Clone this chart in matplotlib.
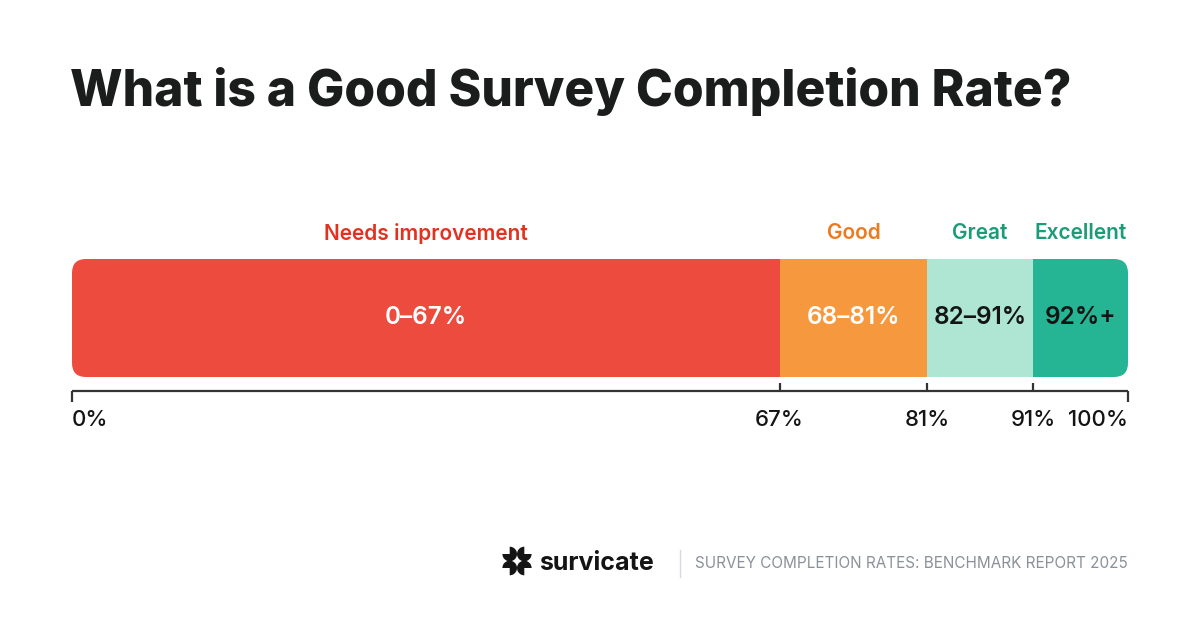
import matplotlib
matplotlib.use("Agg")
import matplotlib.pyplot as plt
from matplotlib.patches import FancyBboxPatch, Wedge
import numpy as np

# ---- data ----
categories = ["Needs improvement", "Good", "Great", "Excellent"]
starts = [0, 67, 81, 91]
ends = [67, 81, 91, 100]
range_labels = ["0–67%", "68–81%", "82–91%", "92%+"]
tick_values = [0, 67, 81, 91, 100]
tick_labels = ["0%", "67%", "81%", "91%", "100%"]

bar_colors = ["#EC4B3D", "#F6993E", "#AEE6D3", "#26B594"]
cat_colors = ["#E2321F", "#EC7A1F", "#1A9C78", "#1A9C78"]
inner_colors = ["white", "white", "#141414", "#141414"]

plt.rcParams['font.family'] = ['Inter', 'DejaVu Sans']

W, H = 1200, 630
fig = plt.figure(figsize=(W / 100, H / 100), dpi=100)
fig.patch.set_facecolor("white")

# overlay axes in pixel coordinates for title/footer
bg = fig.add_axes([0, 0, 1, 1])
bg.set_xlim(0, W)
bg.set_ylim(H, 0)
bg.axis("off")

bg.text(70, 92, "What is a Good Survey Completion Rate?", fontsize=35.8,
        fontweight="heavy", color="#1B1D1C", ha="left", va="center")

# bar axes
bx0, bx1, by0, by1 = 72, 1128, 259, 377
ax = fig.add_axes([bx0 / W, (H - by1) / H, (bx1 - bx0) / W, (by1 - by0) / H])
ax.set_xlim(0, 100)
ax.set_ylim(0, 1)
ax.axis("off")

xs = (bx1 - bx0) / 100.0  # px per unit
ys = (by1 - by0) / 1.0
r_px = 14
clip = FancyBboxPatch((0, 0), 100, 1,
                      boxstyle=f"round,pad=0,rounding_size={r_px / xs}",
                      mutation_aspect=(1 / ys) / (1 / xs),
                      transform=ax.transData, facecolor="none", edgecolor="none")
ax.add_patch(clip)

bars = ax.barh([0.5] * 4, [e - s for s, e in zip(starts, ends)], left=starts,
               height=1.0, color=bar_colors, edgecolor="none")
for b in bars:
    b.set_clip_path(clip)

for s, e, cat, rl, cc, ic in zip(starts, ends, categories, range_labels, cat_colors, inner_colors):
    mid = (s + e) / 2
    ax.text(mid, 0.5, rl, ha="center", va="center", fontsize=17.5,
            fontweight="semibold", color=ic)
    ax.text(mid, 1 + (by0 - 233) / ys, cat, ha="center", va="center",
            fontsize=15, fontweight="semibold", color=cc, clip_on=False)

# axis line with ticks
line_y = -(391 - by1) / ys
ax.plot([0, 100], [line_y, line_y], color="#333333", lw=1.6, clip_on=False,
        solid_capstyle="butt")
for v in tick_values:
    if v in (0, 100):
        y2 = -(402 - by1) / ys
    else:
        y2 = -(383 - by1) / ys
    ax.plot([v, v], [line_y, y2], color="#333333", lw=1.6, clip_on=False,
            solid_capstyle="butt")

lab_y = -(420 - by1) / ys
for v, t in zip(tick_values, tick_labels):
    ha = "left" if v == 0 else ("right" if v == 100 else "center")
    ax.text(v, lab_y, t, ha=ha, va="center", fontsize=16, fontweight="medium",
            color="#141414", clip_on=False)

# footer logo (approximate)
cx, cy = 517, 561
r = 7.3
for (dx, dy, mouth) in [(-7.3, -7, 135), (7.3, -7, 45),
                        (-7.3, 7, 225), (7.3, 7, 315)]:
    bg.add_patch(Wedge((cx + dx, cy + dy), r, -mouth + 45, -mouth - 45 + 360,
                       color="#141414", lw=0))
bg.text(539, 563, "survicate", fontsize=18, fontweight="bold",
        color="#141414", ha="left", va="center")
bg.plot([680, 680], [550, 577], color="#D5D8DC", lw=1)
bg.text(695, 563, "SURVEY COMPLETION RATES: BENCHMARK REPORT 2025",
        fontsize=11, color="#8B9199", ha="left", va="center")

fig.savefig("out.png", dpi=100, facecolor="white")
